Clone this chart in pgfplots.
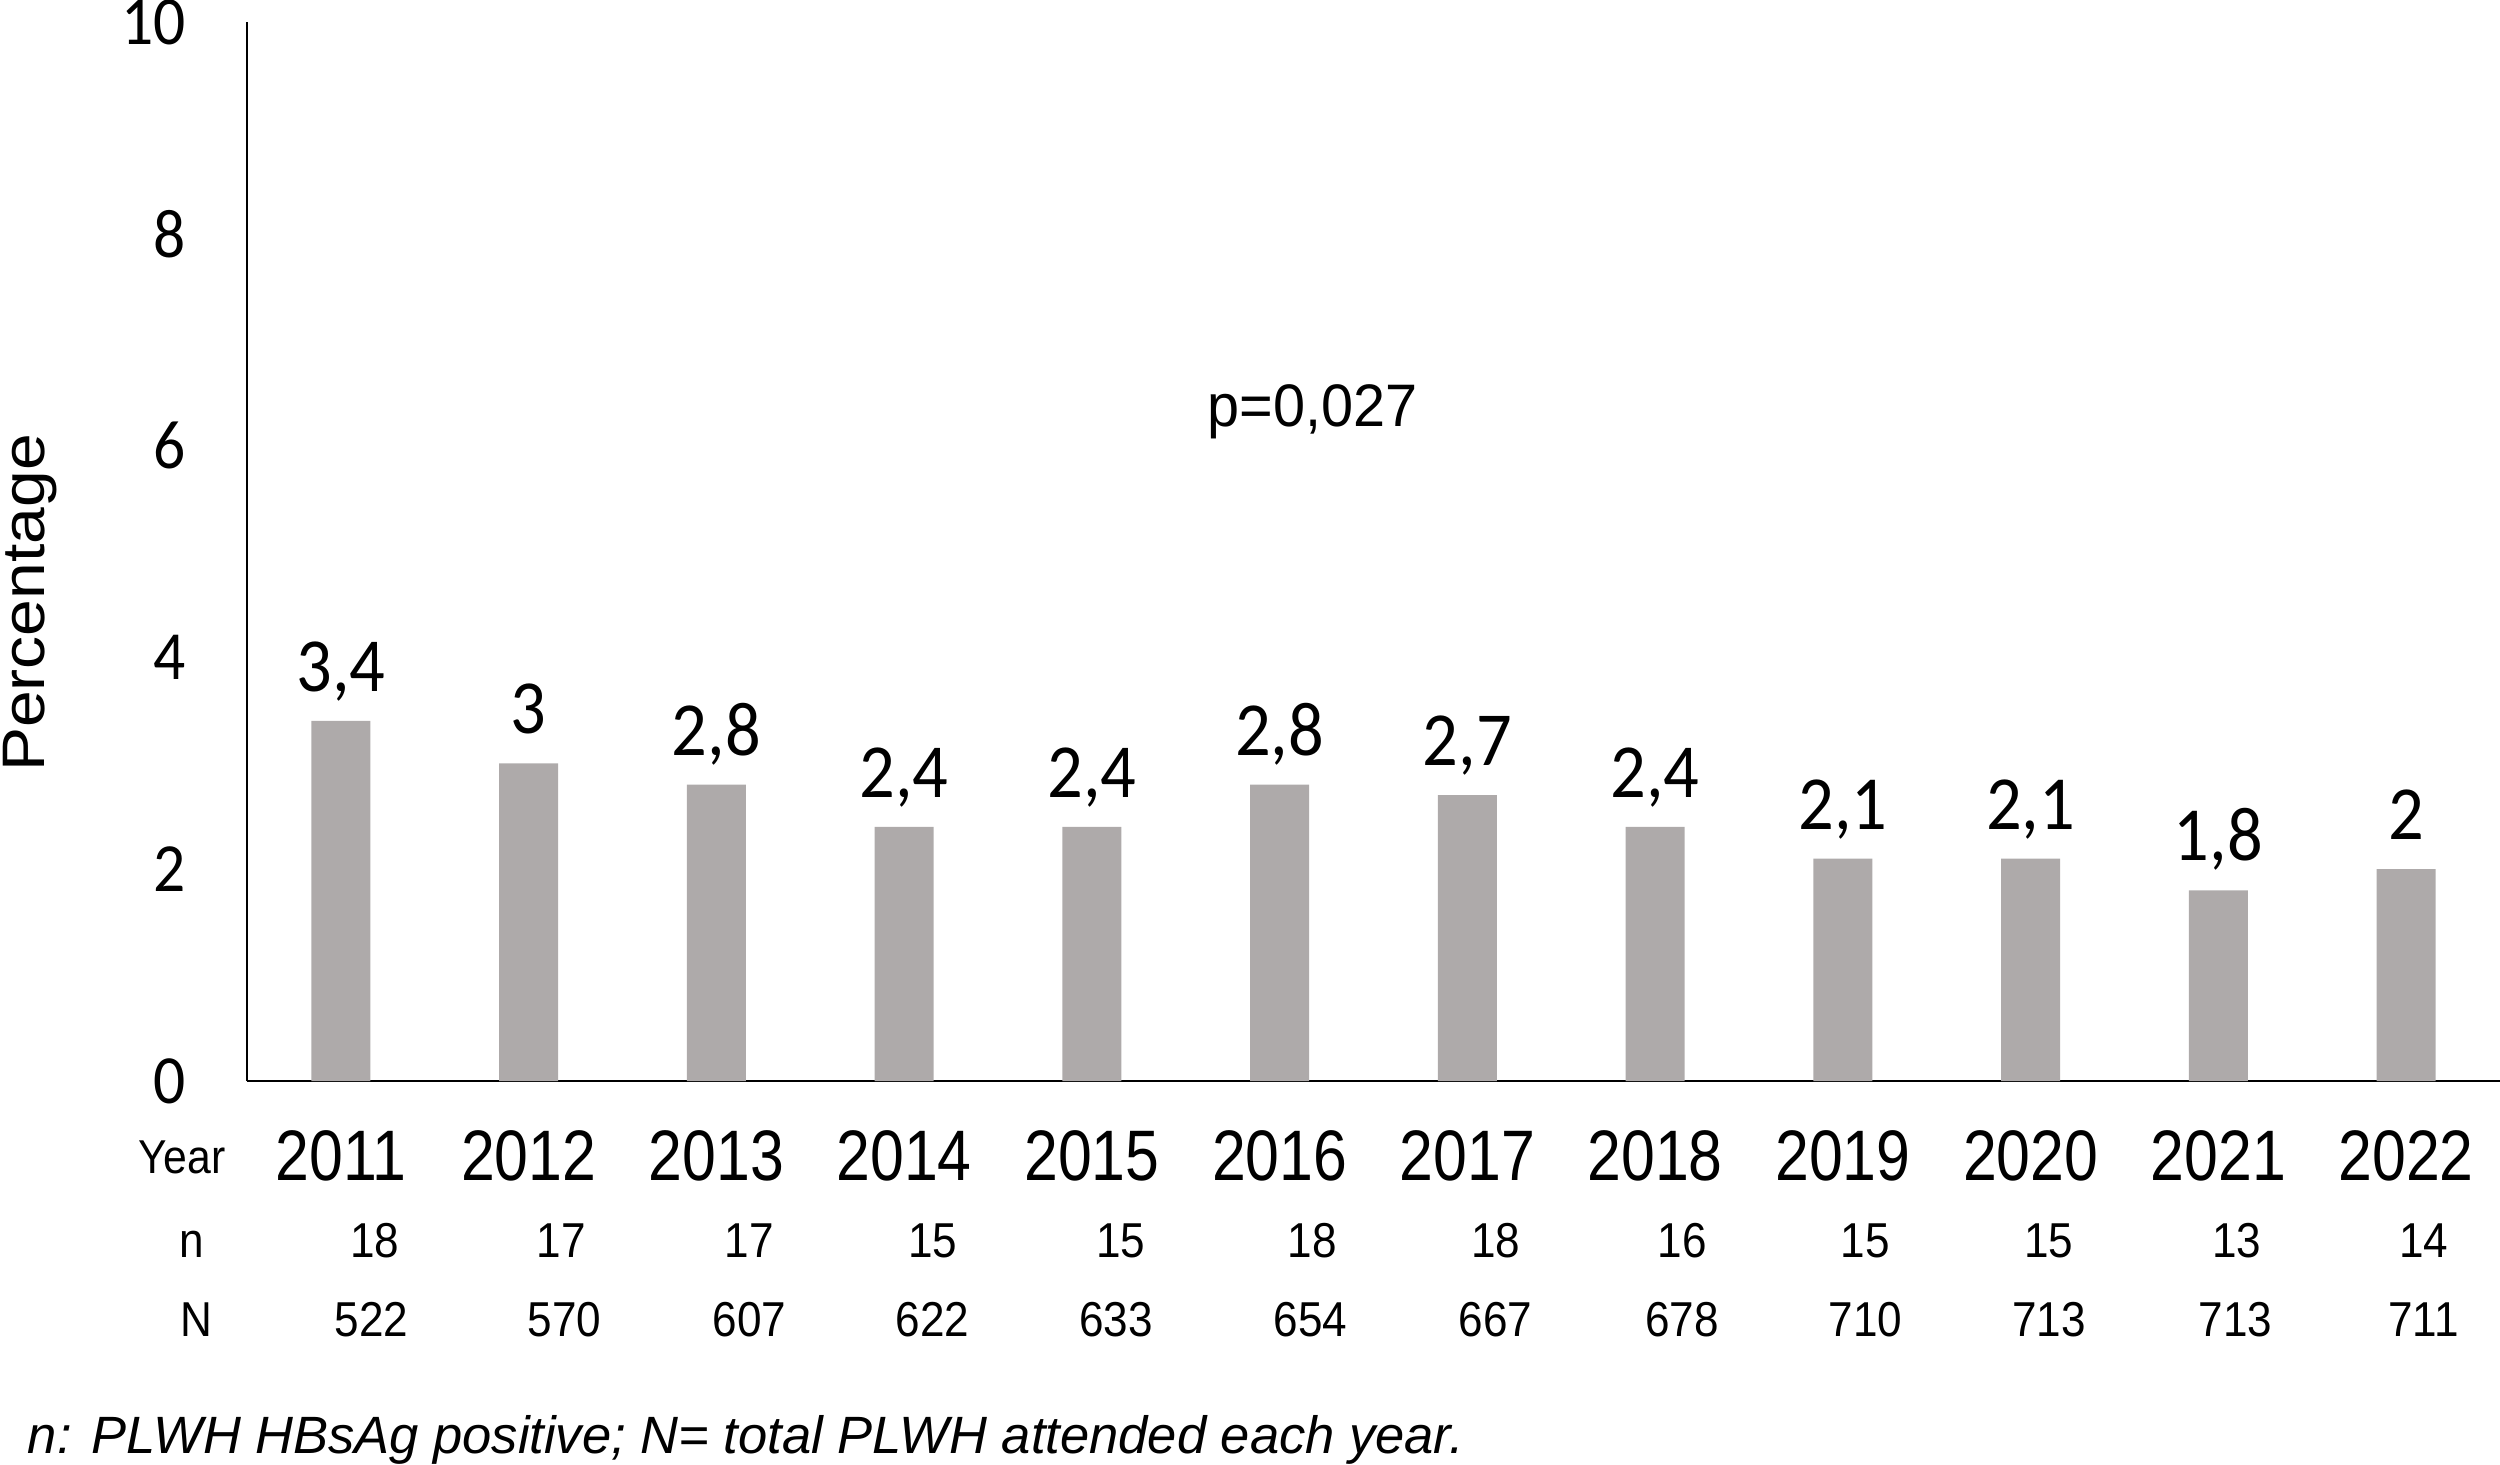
\documentclass[border=0pt]{standalone}
\usepackage{pgfplots}
\pgfplotsset{compat=1.18}
\usepackage{pgfplotstable}
\usepackage{fontspec}
\setmainfont{Liberation Sans}
\newfontfamily\calfont[FakeStretch=0.92]{Carlito}
\newfontfamily\narfont[FakeStretch=0.9]{Liberation Sans}
\newfontfamily\yrfont[FakeStretch=0.85]{Liberation Sans}
\newfontfamily\pfont[FakeStretch=0.96]{Liberation Sans}
\newfontfamily\widefont[FakeStretch=1.1]{Liberation Sans}
\definecolor{bargray}{HTML}{AEAAAA}

\pgfplotstableread{
xn     n   xN     N
0.180  18  0.163  522
1.174  17  1.190  570
2.176  17  2.176  607
3.152  15  3.152  622
4.155  15  4.129  633
5.174  18  5.165  654
6.150  18  6.150  667
7.144  16  7.144  678
8.120  15  8.120  710
9.097  15  9.097  713
10.099 13  10.091 713
11.093 14  11.093 711
}\rowtab

\begin{document}
\begin{tikzpicture}
\useasboundingbox (-49.4pt,-76.6pt) rectangle (450.6pt,216.2pt);
\begin{axis}[
  at={(0,0)}, anchor=south west,
  scale only axis, width=450.6pt, height=211.8pt,
  xmin=-0.5, xmax=11.5, ymin=0, ymax=10,
  axis x line*=bottom, axis y line*=left,
  axis line style={line width=0.45pt, black},
  ytick={0,2,4,6,8,10},
  xtick={0,1,2,3,4,5,6,7,8,9,10,11},
  xticklabels={2011,2012,2013,2014,2015,2016,2017,2018,2019,2020,2021,2022},
  major tick length=0pt,
  clip=false,
  /pgf/number format/assume math mode=true,
  /pgf/number format/use comma,
  yticklabel style={font=\calfont\fontsize{13.8}{13.8}\selectfont, anchor=east, inner sep=0pt, xshift=-12.1pt},
  xticklabel style={font=\yrfont\fontsize{14.3}{14.3}\selectfont, anchor=base, inner sep=0pt, yshift=-19.8pt},
]
\addplot[ybar, bar width=11.8pt, fill=bargray, draw=none,
  nodes near coords,
  every node near coord/.append style={font=\calfont\fontsize{15.3}{15.3}\selectfont, anchor=base, inner sep=0pt, yshift=5.9pt}]
  coordinates {(0,3.4) (1,3.0) (2,2.8) (3,2.4) (4,2.4) (5,2.8) (6,2.7) (7,2.4) (8,2.1) (9,2.1) (10,1.8) (11,2.0)};

\addplot[draw=none, mark=none, nodes near coords, point meta=explicit symbolic,
  every node near coord/.append style={font=\narfont\fontsize{9.8}{9.8}\selectfont, anchor=base, inner sep=0pt}]
  table[x=xn, y expr=-1.671, meta=n] {\rowtab};
\addplot[draw=none, mark=none, nodes near coords, point meta=explicit symbolic,
  every node near coord/.append style={font=\narfont\fontsize{9.8}{9.8}\selectfont, anchor=base, inner sep=0pt}]
  table[x=xN, y expr=-2.417, meta=N] {\rowtab};

\node[font=\narfont\fontsize{9.5}{9.5}\selectfont, anchor=base, inner sep=0pt] at (axis cs:-0.846,-0.869) {Year};
\node[font=\narfont\fontsize{9.8}{9.8}\selectfont, anchor=base, inner sep=0pt] at (axis cs:-0.793,-1.671) {n};
\node[font=\narfont\fontsize{9.8}{9.8}\selectfont, anchor=base, inner sep=0pt] at (axis cs:-0.772,-2.417) {N};
\node[font=\pfont\fontsize{12}{12}\selectfont, anchor=base, inner sep=0pt] at (axis cs:5.175,6.185) {p=0,027};
\node[font=\widefont\fontsize{12}{12}\selectfont, rotate=90, anchor=center, inner sep=0pt] at (axis cs:-1.656,4.514) {Percentage};
\node[font=\fontsize{10.5}{10.5}\selectfont\itshape, anchor=base west, inner sep=0pt] at (axis cs:-1.672,-3.513) {n: PLWH HBsAg positive; N= total PLWH attended each year.};
\end{axis}
\end{tikzpicture}
\end{document}
